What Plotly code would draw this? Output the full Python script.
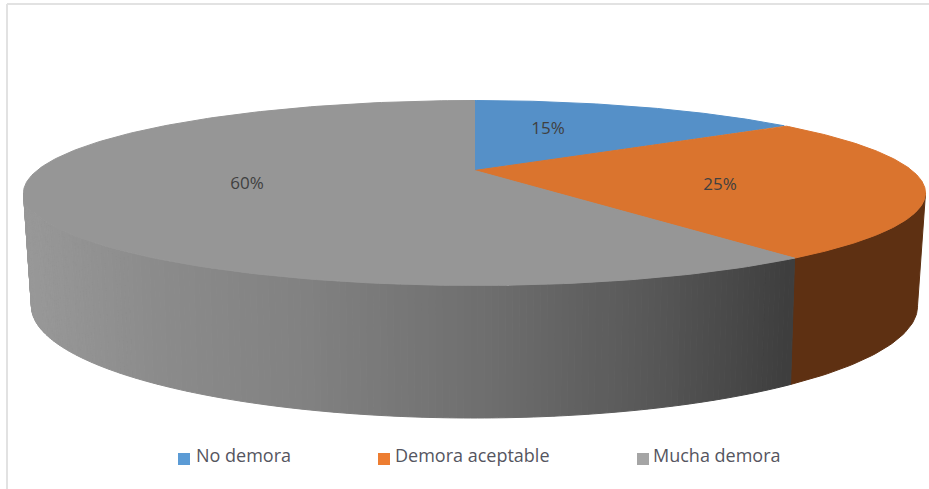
import numpy as np
import plotly.graph_objects as go

# ---- data ----
categories = ["No demora", "Demora aceptable", "Mucha demora"]
values = [15, 25, 60]

# ---- styles ----
TOP_COLORS = ["#5590C8", "#DA742E", "#969696"]
KEY_COLORS = ["#5B9BD5", "#ED7D31", "#A5A5A5"]
ORANGE_SIDE = "#5E3012"
W, H = 929, 489
CX = 474.5


def project(theta_deg, plane):
    """Perspective projection of a rim angle (clockwise from the top) onto the page."""
    t = np.radians(theta_deg)
    u, v = np.sin(t), -np.cos(t)
    d = 1 - plane["p"] * v
    return CX + plane["b"] * u / d, plane["y0"] + plane["a"] * v / d


TOP = dict(p=0.243, b=437.5, a=87.0, y0=170.5)
BOTTOM = dict(p=0.25, b=429.0, a=105.0, y0=278.0)

fig = go.Figure()


def polygon(xs, ys, color):
    fig.add_trace(go.Scatter(
        x=list(xs) + [xs[0]], y=list(ys) + [ys[0]], mode="lines", fill="toself",
        fillcolor=color, line=dict(color=color, width=1),
        hoverinfo="skip", showlegend=False))


edges = np.concatenate([[0], np.cumsum(values)]) * 360 / sum(values)
right_tangent = np.degrees(np.arccos(-TOP["p"]))
left_tangent = 360 - right_tangent


def side_gray(x):
    return int(np.interp(x, [30, 150, 300, 474, 650, 790], [152, 140, 130, 112, 88, 62]))


# Rim of the orange wedge
th = np.linspace(right_tangent, edges[2], 40)
tx, ty = project(th, TOP)
bx, by = project(th, BOTTOM)
polygon(np.r_[tx, bx[::-1]], np.r_[ty, by[::-1]], ORANGE_SIDE)

# Rim of the grey wedge, shaded strip by strip
th = np.linspace(edges[2], left_tangent, 161)
for a, b in zip(th[:-1], th[1:]):
    seg = np.array([a, b])
    tx, ty = project(seg, TOP)
    bx, by = project(seg, BOTTOM)
    g = side_gray(tx.mean())
    polygon(np.r_[tx, bx[::-1]], np.r_[ty, by[::-1]], f"rgb({g},{g},{g})")

# Top face wedges
cx0, cy0 = CX, TOP["y0"]
for i in range(len(values)):
    th = np.linspace(edges[i], edges[i + 1], 200)
    tx, ty = project(th, TOP)
    polygon(np.r_[cx0, tx], np.r_[cy0, ty], TOP_COLORS[i])

# Percentage labels
label_x = [548, 720, 247]
label_y = [130, 186, 185]
fig.add_trace(go.Scatter(
    x=label_x, y=label_y, mode="text", text=[f"{v}%" for v in values],
    textfont=dict(family="Open Sans", size=17, color="#404040"),
    hoverinfo="skip", showlegend=False))

# Key
key_x = [184, 384, 643]
key_text_x = [196, 395, 653]
for i, name in enumerate(categories):
    fig.add_trace(go.Scatter(
        x=[key_x[i]], y=[459], mode="markers",
        marker=dict(symbol="square", size=12, color=KEY_COLORS[i]),
        hoverinfo="skip", showlegend=False))
    fig.add_trace(go.Scatter(
        x=[key_text_x[i]], y=[457], mode="text", text=[name],
        textposition="middle right",
        textfont=dict(family="Open Sans", size=18, color="#555560"),
        hoverinfo="skip", showlegend=False))

frame = dict(color="#E2E2E2", width=2)
fig.add_shape(type="line", x0=7, x1=7, y0=4, y1=H, line=frame, layer="below")
fig.add_shape(type="line", x0=7, x1=W, y0=4, y1=4, line=frame, layer="below")

fig.update_layout(
    width=W, height=H, margin=dict(l=0, r=0, t=0, b=0),
    paper_bgcolor="white", plot_bgcolor="white", showlegend=False,
    xaxis=dict(range=[0, W], visible=False, fixedrange=True),
    yaxis=dict(range=[H, 0], visible=False, fixedrange=True),
)
fig.write_html("out.html", config=dict(displayModeBar=False),
               post_script="document.body.style.margin='0';document.body.style.overflow='hidden';")
